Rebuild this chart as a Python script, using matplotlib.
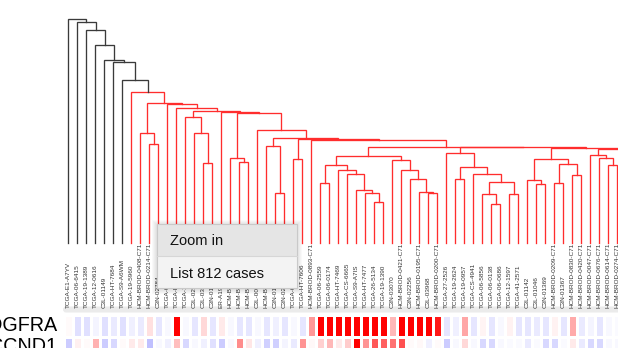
import matplotlib
matplotlib.use("Agg")
import matplotlib.pyplot as plt
from matplotlib.colors import LinearSegmentedColormap
from matplotlib.patches import Rectangle, FancyBboxPatch
import numpy as np

## Data ##

# sample ids, in dendrogram leaf order
labels = [
    "TCGA-E1-A7YV", "TCGA-06-6415", "TCGA-19-1389", "TCGA-12-0616", "C3L-01149",
    "TCGA-HT-7684", "TCGA-S9-A6WM", "TCGA-19-5960", "HCM-BROD-0408-C71", "HCM-BROD-0214-C71",
    "C3N-02784", "TCGA-06-0129", "TCGA-HT-7481", "TCGA-14-1402", "C3L-02705",
    "C3L-03405", "C3N-01334", "ER-A19T", "HCM-BROD-0210-C71", "HCM-BROD-0198-C71",
    "HCM-BROD-0015-C71", "C3L-00016", "HCM-BROD-0406-C71", "C3N-01798", "C3N-02190",
    "TCGA-06-0125", "TCGA-HT-7606", "HCM-BROD-0893-C71", "TCGA-06-2559", "TCGA-06-0174",
    "TCGA-HT-7469", "TCGA-CS-6665", "TCGA-S9-A7IS", "TCGA-HT-7477", "TCGA-26-5134",
    "TCGA-19-1390", "C3N-03070", "HCM-BROD-0421-C71", "C3N-02256", "HCM-BROD-0195-C71",
    "C3L-03968", "HCM-BROD-0200-C71", "TCGA-27-2526", "TCGA-19-2624", "TCGA-19-0957",
    "TCGA-CS-4941", "TCGA-06-5856", "TCGA-06-0138", "TCGA-06-0686", "TCGA-12-1597",
    "TCGA-41-2571", "C3L-01142", "C3L-01046", "C3N-01369", "HCM-BROD-0209-C71",
    "C3N-01367", "HCM-BROD-0830-C71", "HCM-BROD-0420-C71", "HCM-BROD-0047-C71",
    "HCM-BROD-0676-C71", "HCM-BROD-0614-C71", "HCM-BROD-0274-C71",
]

genes = ["PDGFRA", "CCND1"]

# expression z-scores per sample (same order as labels)
pdgfra = [
    0.02, -0.12, -0.12, -0.04, -0.12, -0.08, -0.12, -0.06, -0.08, 0.12,
    -0.10, -0.03, 1.00, -0.03, -0.10, 0.15, -0.10, 0.08, -0.03, -0.10,
    -0.10, -0.03, -0.10, -0.06, -0.10, -0.03, -0.10, 0.40, 1.00, 1.00,
    1.00, 1.00, 1.00, 1.00, 1.00, 1.00, 0.28, 1.00, 1.00, 1.00,
    1.00, 0.90, -0.10, -0.06, 0.35, -0.10, 0.04, -0.10, -0.03, 0.05,
    -0.10, -0.10, -0.08, -0.10, 0.05, -0.10, 0.33, -0.08, -0.04, -0.10,
    -0.03, -0.02,
]
ccnd1 = [
    -0.20, 0.06, 0.02, 0.30, -0.20, -0.15, 0.02, 0.08, 0.08, -0.25,
    -0.03, -0.06, 0.25, -0.15, -0.03, -0.06, -0.12, -0.20, -0.03, 0.45,
    0.10, -0.06, -0.18, -0.18, -0.04, -0.08, 0.42, 0.03, 0.18, 0.28,
    0.08, 0.20, 1.00, 0.42, 0.65, 0.62, 0.55, 0.68, 0.02, 0.03,
    -0.06, 0.02, -0.20, -0.03, 0.15, -0.03, -0.15, -0.15, -0.03, -0.02,
    -0.02, -0.08, -0.02, -0.15, -0.15, -0.02, 0.08, -0.08, -0.15, -0.15,
    -0.03, -0.03,
]

# cluster tree: (left, right, merge height); ints are leaf indices,
# leaves past the last label run off the right edge
g19_21 = (18, (19, 20, 0.813), 0.847)
g23_25 = (22, (23, 24, 0.503), 0.973)
g26_27 = (25, 26, 0.84)
g29_36 = ((28, 29, 0.60), (30, (31, (32, (33, (34, 35, 0.41), 0.50), 0.53), 0.69), 0.73), 0.78)
g37_42 = (36, (37, (38, (39, (40, 41, 0.50), 0.51), 0.64), 0.73), 0.83)
g43_51 = (42, ((43, 44, 0.64), (45, ((46, (47, 48, 0.39), 0.49), (49, 50, 0.49), 0.61), 0.69), 0.76), 0.90)
g52_58 = ((51, (52, 53, 0.59), 0.63), ((54, 55, 0.60), (56, 57, 0.68), 0.79), 0.84)
g_offscreen = ((62, 63, 0.70), ((64, 65, 0.66), (66, 67, 0.72), 0.80), 0.86)
g59_68 = ((58, (59, (60, 61, 0.78), 0.85), 0.88), g_offscreen, 0.94)
g28_68 = (27, ((g29_36, g37_42, 0.87), (g43_51, (g52_58, g59_68, 0.953), 0.958), 0.963), 1.03)
g22_68 = (21, (g23_25, (g26_27, g28_68, 1.04), 1.05), 1.13)
g18_68 = (17, (g19_21, g22_68, 1.297), 1.31)
g12_68 = (11, (12, ((13, (14, (15, 16, 0.80), 1.10), 1.263), g18_68, 1.32), 1.347), 1.39)
red_clade = (7, ((8, (9, 10, 0.99), 1.103), g12_68, 1.40), 1.51)
tree = (0, (1, (2, (3, (4, (5, (6, red_clade, 1.63), 1.81), 1.83), 1.98), 2.13), 2.21), 2.24)

color_threshold = 1.55

## Layout (pixels) ##
W, H = 618, 348
x_first, x_step = 68.3, 9.0
dend_base = 243
label_base = 308
heat_top, row_h = 314.5, 22.0

fig = plt.figure(figsize=(W / 100, H / 100), dpi=100)
xlim = (-x_first / x_step, (W - x_first) / x_step)

# background strip under the labels
ax_bg = fig.add_axes([0, 0, 1, 1], zorder=-1)
ax_bg.set_xlim(0, W)
ax_bg.set_ylim(H, 0)
ax_bg.axis("off")
ax_bg.add_patch(FancyBboxPatch((63, 306.5), 600, 6, boxstyle="round,pad=0,rounding_size=3",
                               fc="#ebebeb", ec="none"))

## Dendrogram ##
ax_d = fig.add_axes([0, 1 - dend_base / H, 1, dend_base / H])
ax_d.set_xlim(*xlim)
ax_d.set_ylim(0, dend_base / 100)
ax_d.axis("off")


def draw_node(node):
    if isinstance(node, int):
        return node, 0.0
    left, right, h = node
    xl, hl = draw_node(left)
    xr, hr = draw_node(right)
    col = "#ff2d2d" if h < color_threshold else "#3a3a3a"
    ax_d.plot([xl, xl, xr, xr], [hl, h, h, hr], color=col, lw=0.95,
              solid_joinstyle="miter", clip_on=False)
    return (xl + xr) / 2, h


draw_node(tree)

label_y = (dend_base - label_base) / 100
for i, lab in enumerate(labels):
    ax_d.text(i, label_y, lab, rotation=90, ha="center", va="bottom",
              fontsize=4.6, color="#333333", family="Liberation Sans")

## Heatmap ##
cmap = LinearSegmentedColormap.from_list("bwr_", ["#0000ff", "#ffffff", "#ff0000"])
ax_h = fig.add_axes([0, 1 - (heat_top + 2 * row_h) / H, 1, 2 * row_h / H])
vals = np.array([pdgfra, ccnd1])
xe = np.arange(len(labels) + 1) - 0.5
ax_h.pcolormesh(xe, [0, 1, 2], vals, cmap=cmap, vmin=-1, vmax=1,
                edgecolors="white", linewidth=0.8)
ax_h.set_xlim(*xlim)
ax_h.set_ylim(2, 0)
ax_h.axis("off")

for r, g in enumerate(genes):
    fig.text(57.5 / W, 1 - (heat_top + 16.5 + r * 20.5) / H, g, ha="right",
             va="baseline", fontsize=14.2, family="Liberation Sans", color="black")

## Context menu ##
ax_m = fig.add_axes([0, 0, 1, 1], zorder=10)
ax_m.set_xlim(0, W)
ax_m.set_ylim(H, 0)
ax_m.axis("off")
mx, my, mw, mh = 157, 224, 140, 64
for k in range(1, 6):
    ax_m.add_patch(Rectangle((mx - k, my - k + 1), mw + 2 * k, mh + 2 * k,
                             fc="black", ec="none", alpha=0.025))
ax_m.add_patch(Rectangle((mx, my), mw, mh / 2, fc="#e5e5e5", ec="none"))
ax_m.add_patch(Rectangle((mx, my + mh / 2), mw, mh / 2, fc="#f3f3f3", ec="none"))
ax_m.plot([mx, mx + mw], [my + mh / 2, my + mh / 2], color="#d6d6d6", lw=0.8)
ax_m.add_patch(Rectangle((mx, my), mw, mh, fill=False, ec="#c9c9c9", lw=0.8))
ax_m.text(mx + 13, my + 21, "Zoom in", fontsize=10.5, va="baseline",
          family="Liberation Sans", color="#111111")
ax_m.text(mx + 13, my + 54, "List 812 cases", fontsize=10.5, va="baseline",
          family="Liberation Sans", color="#111111")

fig.savefig("out.png", dpi=100)
